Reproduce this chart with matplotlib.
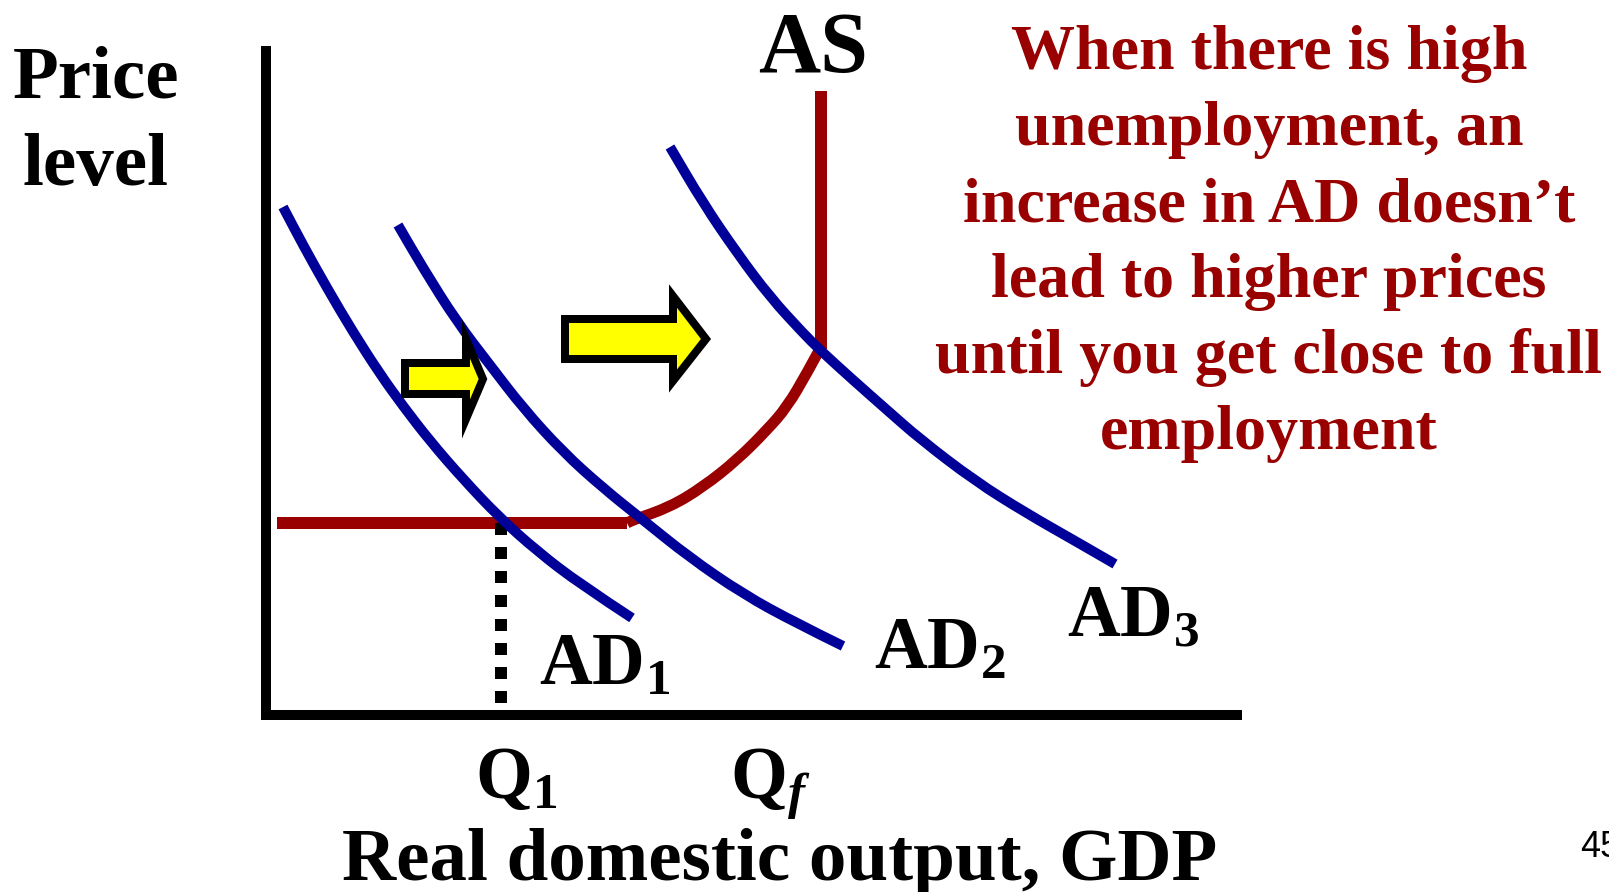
import matplotlib
matplotlib.use("Agg")
import matplotlib.pyplot as plt
from matplotlib.patches import Polygon, PathPatch
from matplotlib.path import Path

plt.rcParams['mathtext.fontset'] = 'custom'
plt.rcParams['mathtext.rm'] = 'Liberation Serif'
plt.rcParams['mathtext.bf'] = 'Liberation Serif:bold'
plt.rcParams['mathtext.it'] = 'Liberation Serif:italic:bold'

# ---- data (diagram coordinates, y grows downward) ----
ad1_x = [283, 303, 327, 353, 380, 403, 430, 463, 500, 537, 580, 632]
ad1_y = [207, 245, 288, 332, 374, 406, 441, 479, 518, 551, 584, 618]

ad2_x = [398, 423, 457, 490, 523, 563, 603, 643, 689, 743, 796, 843]
ad2_y = [225, 268, 322, 365, 408, 452, 488, 520, 557, 594, 623, 646]

ad3_x = [670, 703, 737, 770, 803, 820, 853, 887, 920, 975, 1026, 1077, 1115]
ad3_y = [147, 203, 253, 297, 333, 350, 380, 410, 439, 481, 513, 542, 564]

# AS: horizontal section, rising curve, vertical section
as_flat_x = [277, 627]
as_flat_y = [523, 523]
as_curve_x = [627, 633, 670, 703, 737, 767, 787, 807, 821]
as_curve_y = [523, 520, 507, 487, 460, 430, 407, 373, 347]
as_vert_x = [821, 821]
as_vert_y = [349, 91]

axis_x = [266, 266, 1242]
axis_y = [46, 715, 715]

q1_x = [501, 501]
q1_y = [523, 703]

arrow_small = [(405, 363), (466, 363), (466, 339), (483, 379), (466, 419), (466, 394), (405, 394)]
arrow_big = [(565, 319), (673, 319), (673, 296), (706, 339), (673, 381), (673, 359), (565, 359)]

red_lines = ["When there is high", "unemployment, an", "increase in AD doesn\u2019t",
             "lead to higher prices", "until you get close to full", "employment"]
red_baselines = [69, 145, 221, 297, 373, 449]

BLUE = '#000099'
RED = '#990000'
SERIF = 'Liberation Serif'


def smooth_path(xs, ys):
    """Quadratic Bezier path using the read points as control points."""
    pts = list(zip(xs, ys))
    verts = [pts[0]]
    codes = [Path.MOVETO]
    if len(pts) == 2:
        verts.append(pts[1])
        codes.append(Path.LINETO)
        return Path(verts, codes)
    mid = lambda a, b: ((a[0] + b[0]) / 2.0, (a[1] + b[1]) / 2.0)
    verts.append(mid(pts[0], pts[1]))
    codes.append(Path.LINETO)
    for i in range(1, len(pts) - 1):
        end = mid(pts[i], pts[i + 1]) if i < len(pts) - 2 else pts[i + 1]
        verts += [pts[i], end]
        codes += [Path.CURVE3, Path.CURVE3]
    return Path(verts, codes)


fig = plt.figure(figsize=(16.09, 8.92), dpi=100)
ax = fig.add_axes([0, 0, 1, 1])
ax.set_xlim(0, 1609)
ax.set_ylim(892, 0)
ax.axis('off')

px = 0.72  # points per pixel at 100 dpi

# axes lines
ax.plot(axis_x, axis_y, color='black', lw=10 * px, solid_joinstyle='miter', solid_capstyle='butt', zorder=3)

# AS curve
ax.plot(as_flat_x, as_flat_y, color=RED, lw=12 * px, solid_capstyle='butt', zorder=2)
ax.plot(as_vert_x, as_vert_y, color=RED, lw=12 * px, solid_capstyle='butt', zorder=2)
ax.add_patch(PathPatch(smooth_path(as_curve_x, as_curve_y), facecolor='none', edgecolor=RED, lw=11 * px,
                       capstyle='butt', joinstyle='round', zorder=2))

# dotted Q1 line
ax.plot(q1_x, q1_y, color='black', lw=12 * px, linestyle=(0, (1, 1)), dash_capstyle='butt', zorder=4)

# AD curves
for xs, ys in [(ad1_x, ad1_y), (ad2_x, ad2_y), (ad3_x, ad3_y)]:
    ax.add_patch(PathPatch(smooth_path(xs, ys), facecolor='none', edgecolor=BLUE, lw=10 * px,
                           capstyle='butt', joinstyle='round', zorder=5))

# yellow arrows
for pts in [arrow_small, arrow_big]:
    ax.add_patch(Polygon(pts, closed=True, facecolor='#FFFF00', edgecolor='black',
                         lw=8 * px, joinstyle='miter', zorder=6))

# texts
ax.text(96, 97, "Price", fontfamily=SERIF, fontweight='bold', fontsize=75 * px, ha='center', va='baseline')
ax.text(96, 185, "level", fontfamily=SERIF, fontweight='bold', fontsize=75 * px, ha='center', va='baseline')
ax.text(813, 72, "AS", fontfamily=SERIF, fontweight='bold', fontsize=86 * px, ha='center', va='baseline')

for line, yb in zip(red_lines, red_baselines):
    ax.text(1269, yb, line, fontfamily=SERIF, fontweight='bold', fontsize=64 * px, color=RED,
            ha='center', va='baseline')

lab_fs = 73 * px
ax.text(539, 685, r"$\mathbf{AD}_{\mathbf{1}}$", fontsize=lab_fs, ha='left', va='baseline')
ax.text(874, 669, r"$\mathbf{AD}_{\mathbf{2}}$", fontsize=lab_fs, ha='left', va='baseline')
ax.text(1067, 636, r"$\mathbf{AD}_{\mathbf{3}}$", fontsize=lab_fs, ha='left', va='baseline')

ax.text(475, 798, r"$\mathbf{Q}_{\mathbf{1}}$", fontsize=lab_fs, ha='left', va='baseline')
ax.text(730, 798, r"$\mathbf{Q}_{\mathit{f}}$", fontsize=lab_fs, ha='left', va='baseline')

ax.text(780, 880, "Real domestic output, GDP", fontfamily=SERIF, fontweight='bold', fontsize=75 * px,
        ha='center', va='baseline')

ax.text(1580, 857, "45", fontfamily='Liberation Sans', fontsize=36 * px, ha='left', va='baseline')

fig.savefig("out.png", dpi=100)
